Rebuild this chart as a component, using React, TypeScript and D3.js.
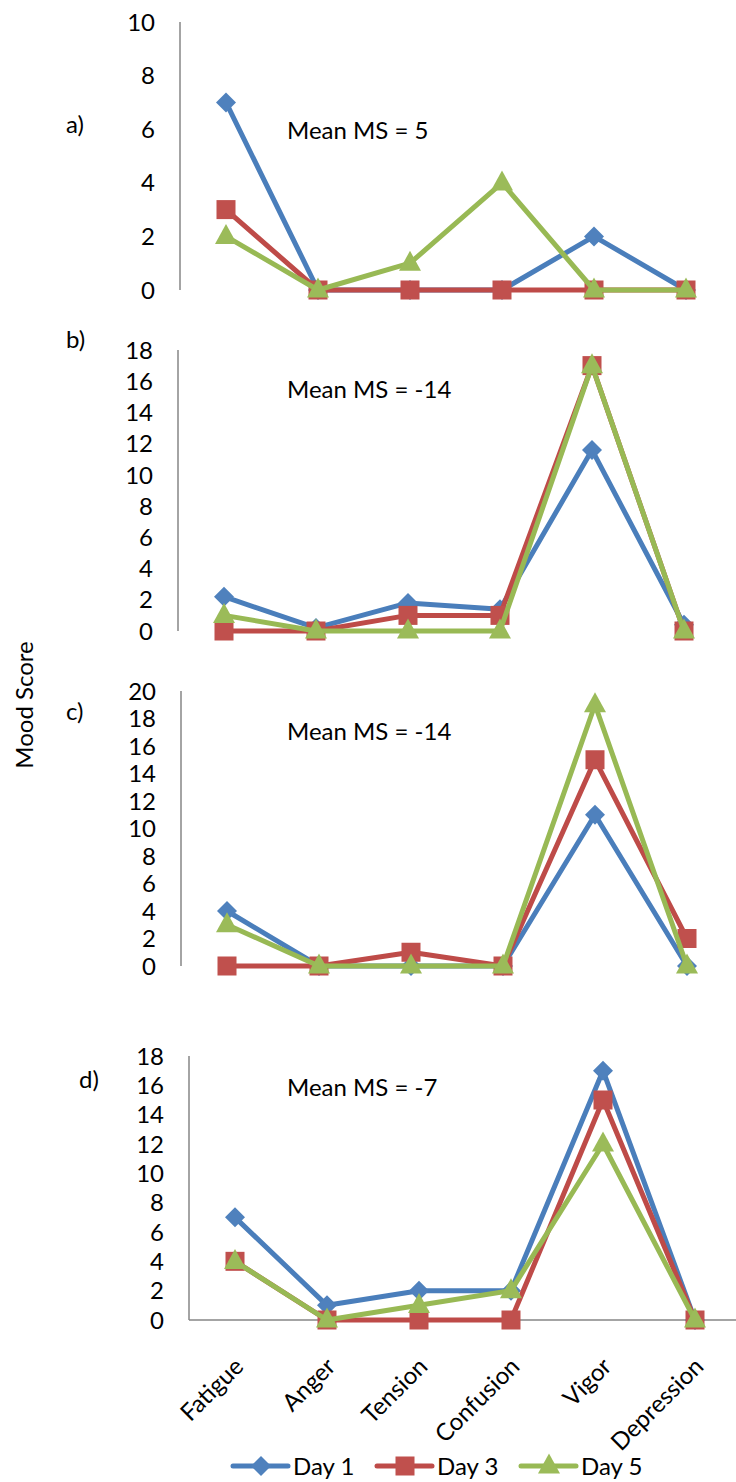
import React from 'react';
import * as d3 from 'd3';

const categories = ['Fatigue', 'Anger', 'Tension', 'Confusion', 'Vigor', 'Depression'];
const seriesNames = ['Day 1', 'Day 3', 'Day 5'];
const panelLabels = ['a)', 'b)', 'c)', 'd)'];
const meanLabels = ['Mean MS = 5', 'Mean MS = -14', 'Mean MS = -14', 'Mean MS = -7'];
const yMaxes = [10, 18, 20, 18];

const panelA_day1 = [7, 0, 0, 0, 2, 0];
const panelA_day3 = [3, 0, 0, 0, 0, 0];
const panelA_day5 = [2, 0, 1, 4, 0, 0];

const panelB_day1 = [2.2, 0.2, 1.8, 1.4, 11.6, 0.4];
const panelB_day3 = [0, 0, 1, 1, 17, 0];
const panelB_day5 = [1, 0, 0, 0, 17, 0];

const panelC_day1 = [4, 0, 0, 0, 11, 0];
const panelC_day3 = [0, 0, 1, 0, 15, 2];
const panelC_day5 = [3, 0, 0, 0, 19, 0];

const panelD_day1 = [7, 1, 2, 2, 17, 0];
const panelD_day3 = [4, 0, 0, 0, 15, 0];
const panelD_day5 = [4, 0, 1, 2, 12, 0];

const panelData = [
  [panelA_day1, panelA_day3, panelA_day5],
  [panelB_day1, panelB_day3, panelB_day5],
  [panelC_day1, panelC_day3, panelC_day5],
  [panelD_day1, panelD_day3, panelD_day5],
];

// layout (pixels)
const layout = [
  { axisX: 180, top: 22, zero: 290, labelX: 66, labelY: 133, meanY: 139 },
  { axisX: 178, top: 350, zero: 631, labelX: 66, labelY: 348, meanY: 398 },
  { axisX: 181, top: 691, zero: 966, labelX: 66, labelY: 720, meanY: 740 },
  { axisX: 189, top: 1056, zero: 1320, labelX: 79, labelY: 1088, meanY: 1096 },
];
const plotWidth = 552;
const lineColors = ['#4A7EBB', '#BE4B48', '#98B954'];
const markerColors = ['#4F81BD', '#C0504D', '#9BBB59'];
const FONT = 'Lato, Carlito, Calibri, sans-serif';
const FS = 24;

function Marker({ kind, x, y, color }: { kind: number; x: number; y: number; color: string }) {
  if (kind === 0) {
    const r = 10;
    return <path d={`M${x},${y - r}L${x + r},${y}L${x},${y + r}L${x - r},${y}Z`} fill={color} />;
  }
  if (kind === 1) {
    const s = 19;
    return <rect x={x - s / 2} y={y - s / 2} width={s} height={s} fill={color} />;
  }
  const w = 22, h = 20;
  return <path d={`M${x},${y - h * 0.62}L${x + w / 2},${y + h * 0.38}L${x - w / 2},${y + h * 0.38}Z`} fill={color} />;
}

function Panel({ idx }: { idx: number }) {
  const L = layout[idx];
  const x = d3.scalePoint<string>().domain(categories).range([L.axisX, L.axisX + plotWidth]).padding(0.5);
  const y = d3.scaleLinear().domain([0, yMaxes[idx]]).range([L.zero, L.top]);
  const ticks = d3.range(0, yMaxes[idx] + 1, 2);
  const line = d3
    .line<number>()
    .x((_, i) => x(categories[i]) as number)
    .y((v) => y(v));
  return (
    <g>
      <line x1={L.axisX} x2={L.axisX} y1={L.top} y2={L.zero} stroke="#868686" strokeWidth={1.5} />
      {idx === 3 && (
        <line x1={L.axisX} x2={L.axisX + plotWidth} y1={L.zero} y2={L.zero} stroke="#868686" strokeWidth={1.5} />
      )}
      {ticks.map((t) => (
        <text key={t} x={L.axisX - 25} y={y(t)} dy="0.36em" textAnchor="end" fontSize={FS} fontFamily={FONT} fill="#000">
          {t}
        </text>
      ))}
      <text x={L.labelX} y={L.labelY} fontSize={FS} fontFamily={FONT} fill="#000">
        {panelLabels[idx]}
      </text>
      <text x={287} y={L.meanY} fontSize={FS} fontFamily={FONT} fill="#000">
        {meanLabels[idx]}
      </text>
      {panelData[idx].map((vals, s) => (
        <g key={s}>
          <path d={line(vals) as string} fill="none" stroke={lineColors[s]} strokeWidth={5} strokeLinejoin="round" strokeLinecap="round" />
          {vals.map((v, i) => (
            <Marker key={i} kind={s} x={x(categories[i]) as number} y={y(v)} color={markerColors[s]} />
          ))}
        </g>
      ))}
      {idx === 3 &&
        categories.map((c) => (
          <text
            key={c}
            transform={`translate(${(x(c) as number) + 10},${L.zero + 48}) rotate(-45)`}
            textAnchor="end"
            fontSize={FS}
            fontFamily={FONT}
            fill="#000"
          >
            {c}
          </text>
        ))}
    </g>
  );
}

export default function App() {
  const legendY = 1466;
  return (
    <svg width={736} height={1482} style={{ position: 'absolute', left: 0, top: 0, background: '#fff' }}>
      <rect width={736} height={1482} fill="#fff" />
      {layout.map((_, i) => (
        <Panel key={i} idx={i} />
      ))}
      <text transform="translate(24,705) rotate(-90)" textAnchor="middle" dy="0.36em" fontSize={FS} fontFamily={FONT} fill="#000">
        Mood Score
      </text>
      {seriesNames.map((n, s) => {
        const x0 = 233 + s * 144;
        return (
          <g key={n}>
            <line x1={x0} x2={x0 + 55} y1={legendY} y2={legendY} stroke={lineColors[s]} strokeWidth={5} strokeLinecap="round" />
            <Marker kind={s} x={x0 + 28} y={legendY} color={markerColors[s]} />
            <text x={x0 + 60} y={legendY} dy="0.36em" fontSize={FS} fontFamily={FONT} fill="#000">
              {n}
            </text>
          </g>
        );
      })}
    </svg>
  );
}
